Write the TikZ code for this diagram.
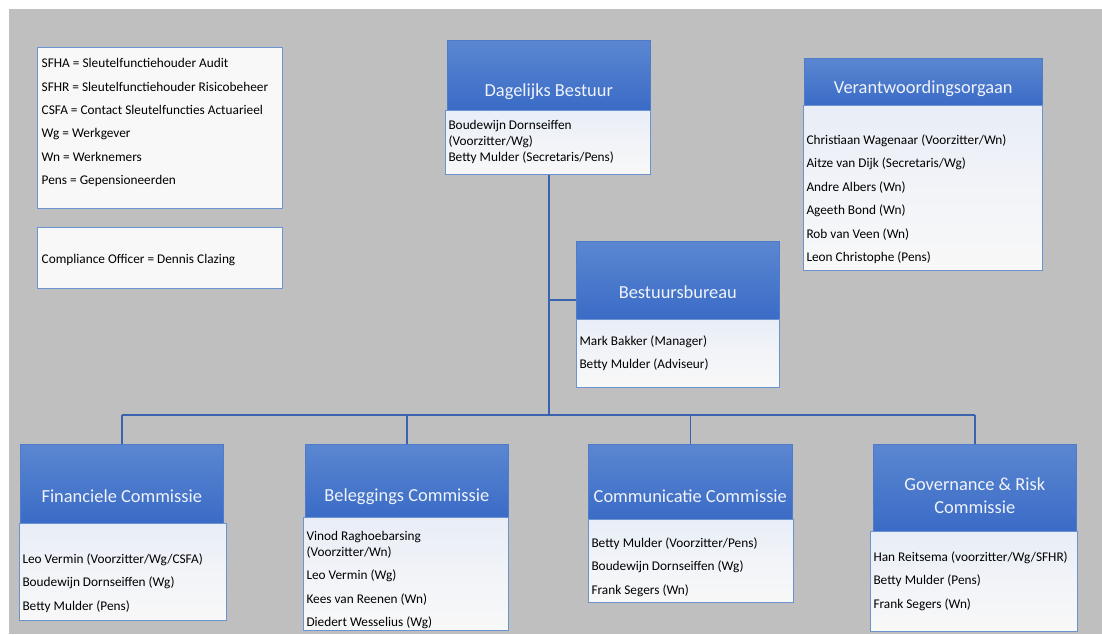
\documentclass[tikz,border=0pt]{standalone}
\usepackage{fontspec}
\setmainfont{Carlito}
\usepackage{tikz}
\usetikzlibrary{positioning}

\definecolor{canvasgray}{HTML}{BFBFBF}
\definecolor{hdrtop}{HTML}{5B87D1}
\definecolor{hdrbottom}{HTML}{3A6BC6}
\definecolor{hdrline}{HTML}{4F7BC9}
\definecolor{bodytop}{HTML}{E8EDF7}
\definecolor{bodybottom}{HTML}{F8F8F8}
\definecolor{boxline}{HTML}{6A93CF}
\definecolor{orgline}{HTML}{3B62AE}
\definecolor{titlewhite}{HTML}{F0F3FA}

% #1 = space above first line, #2 = box height, #3 = box width, #4 = members
\newcommand{\memberlist}[4]{%
\begin{minipage}[t][#2]{#3}
\fontsize{13.3}{16}\selectfont
\setlength\parindent{0pt}\setlength\parskip{7.4pt}%
\vspace*{#1}\strut #4
\end{minipage}}

\tikzset{
  header/.style={rectangle, draw=hdrline, line width=0.6pt,
    top color=hdrtop, bottom color=hdrbottom, anchor=north west, inner sep=0pt},
  members/.style={rectangle, draw=boxline, line width=1pt,
    top color=bodytop, bottom color=bodybottom, middle color=bodytop!40!bodybottom,
    anchor=north west, inner xsep=3pt, inner ysep=0pt},
  legendbox/.style={rectangle, draw=boxline, line width=1.4pt, fill=bodybottom,
    anchor=north west, inner xsep=4pt, inner ysep=0pt},
  title/.style={text=titlewhite, font=\fontsize{18.4}{23}\selectfont, align=center,
    inner sep=0pt},
  orgedge/.style={draw=orgline, line width=1.6pt}
}

\begin{document}
\begin{tikzpicture}[x=1pt,y=-1pt]

\useasboundingbox (0,0) rectangle (1102,634);
\fill[white] (0,0) rectangle (1102,634);
\fill[canvasgray] (9,9) rectangle (1102,634);

% legend
\node[legendbox] (legend) at (37,47) {\memberlist{8.8pt}{161pt}{237pt}{%
SFHA = Sleutelfunctiehouder Audit\par
SFHR = Sleutelfunctiehouder Risicobeheer\par
CSFA = Contact Sleutelfuncties Actuarieel\par
Wg = Werkgever\par
Wn = Werknemers\par
Pens = Gepensioneerden}};
\node[legendbox] (compliance) at (37,227) {\memberlist{24.8pt}{61pt}{237pt}{%
Compliance Officer = Dennis Clazing}};

% junctions of the lines
\coordinate (bus) at (549,415);
\coordinate (bbjoin) at (549,300);

% Dagelijks Bestuur
\node[header, minimum width=203pt, minimum height=70pt] (db) at (447,40) {};
\node[title] (dbtitle) at ([yshift=-16pt]db.center) {Dagelijks Bestuur};
\node[members] (dbmembers) at (445,110) {\memberlist{7.8pt}{64pt}{199pt}{%
Boudewijn Dornseiffen\\
(Voorzitter/Wg)\\
Betty Mulder (Secretaris/Pens)}};

% Verantwoordingsorgaan
\node[header, minimum width=238pt, minimum height=47pt] (vo) at (804,58) {};
\node[title] (votitle) at ([yshift=-7pt]vo.center) {Verantwoordingsorgaan};
\node[members] (vomembers) at (803,105) {\memberlist{27.8pt}{165pt}{233pt}{%
Christiaan Wagenaar (Voorzitter/Wn)\par
Aitze van Dijk (Secretaris/Wg)\par
Andre Albers (Wn)\par
Ageeth Bond (Wn)\par
Rob van Veen (Wn)\par
Leon Christophe (Pens)}};

% Bestuursbureau
\node[header, minimum width=203pt, minimum height=78pt] (bb) at (576,241) {};
\node[title] (bbtitle) at ([yshift=-12pt]bb.center) {Bestuursbureau};
\node[members] (bbmembers) at (576,319) {\memberlist{14.8pt}{68pt}{197pt}{%
Mark Bakker (Manager)\par
Betty Mulder (Adviseur)}};

% commissies
\node[header, minimum width=203pt, minimum height=79pt] (fc) at (20,444) {};
\node[title] (fctitle) at ([yshift=-12pt]fc.center) {Financiele Commissie};
\node[members] (fcmembers) at (19,523) {\memberlist{28.8pt}{97pt}{201pt}{%
Leo Vermin (Voorzitter/Wg/CSFA)\par
Boudewijn Dornseiffen (Wg)\par
Betty Mulder (Pens)}};

\node[header, minimum width=203pt, minimum height=73pt] (bc) at (305,444) {};
\node[title] (bctitle) at ([yshift=-16pt]bc.center) {Beleggings Commissie};
\node[members] (bcmembers) at (303,517) {\memberlist{11.8pt}{113pt}{199pt}{%
Vinod Raghoebarsing\\
(Voorzitter/Wn)\par
Leo Vermin (Wg)\par
Kees van Reenen (Wn)\par
Diedert Wesselius (Wg)}};

\node[header, minimum width=204pt, minimum height=75pt] (cc) at (588,444) {};
\node[title] (cctitle) at ([yshift=-14pt]cc.center) {Communicatie Commissie};
\node[members] (ccmembers) at (588,519) {\memberlist{16.8pt}{83pt}{199pt}{%
Betty Mulder (Voorzitter/Pens)\par
Boudewijn Dornseiffen (Wg)\par
Frank Segers (Wn)}};

\node[header, minimum width=203pt, minimum height=87pt] (gc) at (873,444) {};
\node[title] (gctitle) at ([yshift=-8pt]gc.center) {Governance \& Risk\\Commissie};
\node[members] (gcmembers) at (870,531) {\memberlist{18.8pt}{100pt}{201pt}{%
Han Reitsema (voorzitter/Wg/SFHR)\par
Betty Mulder (Pens)\par
Frank Segers (Wn)}};

% lines
\draw[orgedge] (dbmembers.south -| bus) -- (bus);
\draw[orgedge] (bbjoin) -- (bbjoin -| bb.west);
\draw[orgedge] (bus -| fc.north) -- (bus -| gc.north);
\draw[orgedge] (bus -| fc.north) -- (fc.north);
\draw[orgedge] (bus -| bc.north) -- (bc.north);
\draw[orgedge] (bus -| cc.north) -- (cc.north);
\draw[orgedge] (bus -| gc.north) -- (gc.north);

\end{tikzpicture}
\end{document}
